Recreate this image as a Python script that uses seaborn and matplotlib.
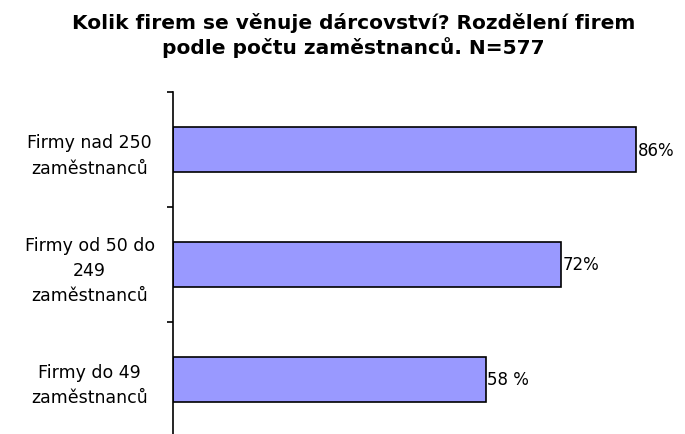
import numpy as np
import pandas as pd
import matplotlib
matplotlib.use('Agg')
import matplotlib.pyplot as plt
import seaborn as sns

categories = ['Firmy nad 250\nzaměstnanců', 'Firmy od 50 do\n249\nzaměstnanců', 'Firmy do 49\nzaměstnanců']
values = [86, 72, 58]
value_labels = ['86%', '72%', '58 %']

df = pd.DataFrame({'kategorie': categories, 'podil': values})

sns.set_style('white')
plt.rcParams['font.family'] = ['DejaVu Sans']
plt.rcParams['text.color'] = 'black'
plt.rcParams['ytick.color'] = 'black'

fig = plt.figure(figsize=(6.85, 4.35), dpi=100)
ax = fig.add_axes([173/685, -3/435, 512/685, 345/435])

sns.barplot(data=df, x='podil', y='kategorie', orient='h', color='#9999FF',
            saturation=1, edgecolor='black', linewidth=1.2, width=0.39, ax=ax)

ax.set_xlim(0, 95)
ax.set_ylim(2.5, -0.5)
ax.set_xlabel('')
ax.set_ylabel('')
ax.set_xticks([])

for i, (v, lab) in enumerate(zip(values, value_labels)):
    ax.text(v + 0.3, i, lab, va='center', ha='left', fontsize=12)

ax.set_yticks([0, 1, 2])
ax.set_yticklabels(categories, fontsize=12.5, ha='center', linespacing=1.5)
ax.tick_params(axis='y', which='major', length=0, pad=60)
ax.set_yticks([-0.5, 0.5, 1.5, 2.5], minor=True)
ax.tick_params(axis='y', which='minor', length=4, width=1.2, color='black', direction='out', left=True)

for s in ['top', 'right', 'bottom']:
    ax.spines[s].set_visible(False)
ax.spines['left'].set_color('black')
ax.spines['left'].set_linewidth(1.2)

fig.text(0.516, 0.918, 'Kolik firem se věnuje dárcovství? Rozdělení firem\npodle počtu zaměstnanců. N=577',
         ha='center', va='center', fontsize=14.5, fontweight='bold', linespacing=1.25)

fig.savefig('out.png', dpi=100)
